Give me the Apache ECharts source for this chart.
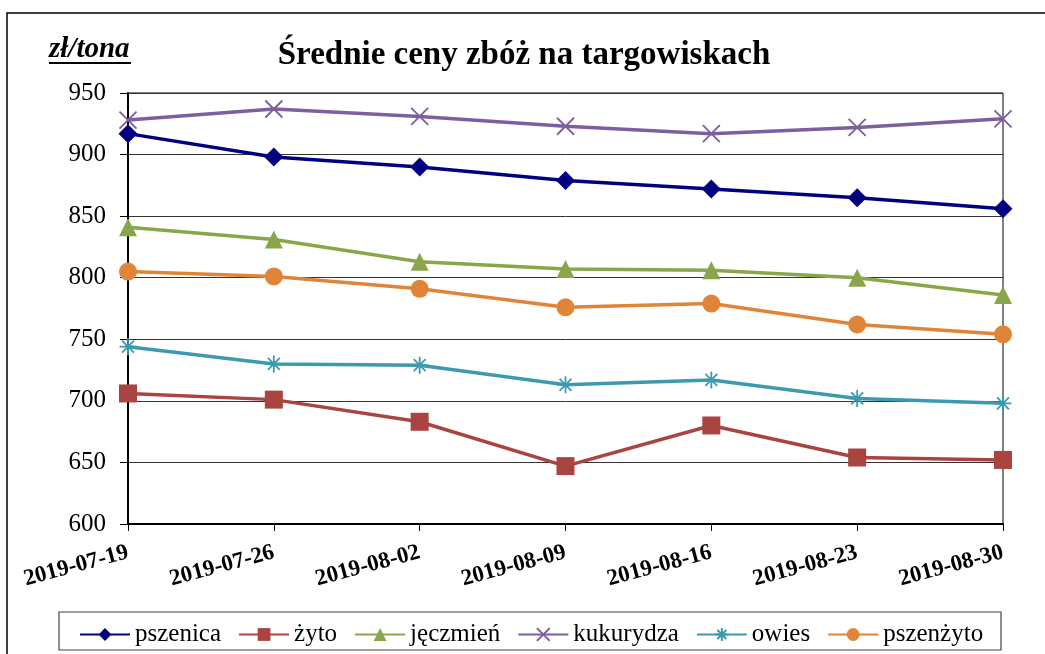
<!DOCTYPE html>
<html><head><meta charset="utf-8">
<script src="https://cdn.jsdelivr.net/npm/echarts@6/dist/echarts.min.js"></script>
<style>html,body{margin:0;padding:0;background:#fff}#c{width:1045px;height:654px}</style>
</head><body><div id="c"></div>
<script>
const categories = ['2019-07-19','2019-07-26','2019-08-02','2019-08-09','2019-08-16','2019-08-23','2019-08-30'];
const pszenica  = [917, 898, 890, 879, 872, 865, 856];
const zyto      = [706, 701, 683, 647, 680, 654, 652];
const jeczmien  = [841, 831, 813, 807, 806, 800, 786];
const kukurydza = [928, 937, 931, 923, 917, 922, 929];
const owies     = [744, 730, 729, 713, 717, 702, 698];
const pszenzyto = [805, 801, 791, 776, 779, 762, 754];
const yTicks = [600, 650, 700, 750, 800, 850, 900, 950];

const FONT = 'Liberation Serif';
const crossPath = 'path://M0,0L10,10M10,0L0,10';
const starPath = 'path://M5,0L5,10M0,5L10,5M1.5,1.5L8.5,8.5M8.5,1.5L1.5,8.5';

function mk(name, data, color, symbol, size, stroke) {
  return {
    name, type: 'line', data, symbol, symbolSize: size,
    lineStyle: { color, width: 3.5 },
    itemStyle: stroke ? { color: 'transparent', borderColor: color, borderWidth: 1.8 } : { color },
    emphasis: { disabled: true }
  };
}

const chart = echarts.init(document.getElementById('c'));
chart.setOption({
  animation: false,
  backgroundColor: '#fff',
  textStyle: { fontFamily: FONT },
  title: {
    text: 'Średnie ceny zbóż na targowiskach',
    left: 519, top: 34, textAlign: 'center',
    textStyle: { fontFamily: FONT, fontSize: 33, fontWeight: 'bold', color: '#000' }
  },
  grid: { left: 128, right: 42, top: 93, bottom: 130, show: true, borderColor: '#000', borderWidth: 1 },
  legend: {
    left: 74, top: 617, itemWidth: 50, itemHeight: 16, itemGap: 17,
    textStyle: { fontFamily: FONT, fontSize: 25, color: '#000' },
    data: ['pszenica', 'żyto', 'jęczmień', 'kukurydza', 'owies', 'pszenżyto']
  },
  xAxis: {
    type: 'category', data: categories, boundaryGap: false,
    axisLine: { lineStyle: { color: '#000', width: 2 } },
    axisTick: { show: true, length: 7, lineStyle: { color: '#000' } },
    axisLabel: { rotate: 15, margin: 28, fontFamily: FONT, fontSize: 23, fontWeight: 'bold', color: '#000', interval: 0 }
  },
  yAxis: {
    type: 'value', min: yTicks[0], max: yTicks[yTicks.length - 1], interval: 50,
    axisLine: { show: true, lineStyle: { color: '#000', width: 2 } },
    axisTick: { show: true, length: 8, lineStyle: { color: '#000' } },
    axisLabel: { margin: 22, fontFamily: FONT, fontSize: 25, color: '#000' },
    splitLine: { show: true, lineStyle: { color: '#333', width: 1 } }
  },
  graphic: [
    { type: 'polyline', shape: { points: [[7, 660], [7, 13], [1050, 13]] }, style: { stroke: '#000', lineWidth: 1.5, fill: null } },
    { type: 'text', left: 49, top: 35, style: { text: 'zł/tona', font: 'italic bold 29px "Liberation Serif", serif', fill: '#000' } },
    { type: 'line', shape: { x1: 49, y1: 63, x2: 131, y2: 63 }, style: { stroke: '#000', lineWidth: 1.8 } },
    { type: 'rect', shape: { x: 59, y: 612, width: 942, height: 38 }, style: { stroke: '#444', lineWidth: 1.2, fill: null } }
  ],
  series: [
    mk('pszenica', pszenica, '#000080', 'diamond', 19),
    mk('żyto', zyto, '#A94440', 'rect', 18),
    mk('jęczmień', jeczmien, '#8AA64A', 'triangle', 18),
    mk('kukurydza', kukurydza, '#7D5E9E', crossPath, 17, true),
    mk('owies', owies, '#3C9AB0', starPath, 17, true),
    mk('pszenżyto', pszenzyto, '#E08538', 'circle', 18)
  ]
});
</script></body></html>
